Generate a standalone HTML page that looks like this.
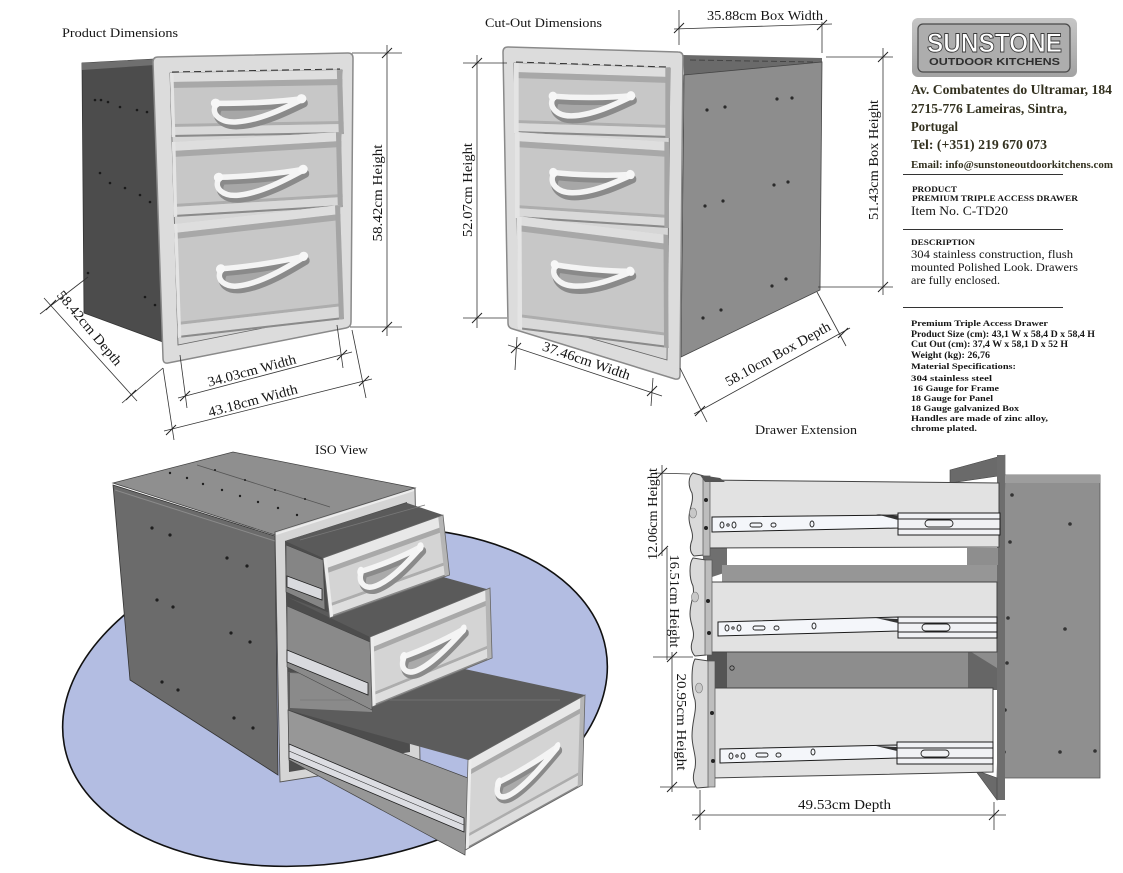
<!DOCTYPE html>
<html><head><meta charset="utf-8"><style>
html,body{margin:0;padding:0;background:#fff;}
svg{display:block;}
text{font-family:"Liberation Serif",serif;fill:#151515;}
</style></head><body>
<svg width="1123" height="873" viewBox="0 0 1123 873" xmlns="http://www.w3.org/2000/svg" xmlns:xlink="http://www.w3.org/1999/xlink">
<defs>
 <g id="hdl">
  <path d="M0,2 C-3,10 2,20 12,19 C25,18 40,6 50,-2 C35,0 15,1 0,2 Z" fill="#9c9c9c" opacity="0.75" transform="translate(1.5,4)"/>
  <path d="M0,0 C15,1 35,0 50,-3 M50,-2 C40,6 25,18 12,19 C2,20 -3,10 0,2" fill="none" stroke="#8a8a8a" stroke-width="7" vector-effect="non-scaling-stroke" transform="translate(1.5,4)" stroke-linecap="round"/>
  <path d="M0,0 C15,1 35,0 50,-3 M50,-2 C40,6 25,18 12,19 C2,20 -3,10 0,2" fill="none" stroke="#f4f4f4" stroke-width="5.5" vector-effect="non-scaling-stroke" stroke-linecap="round"/>
  <ellipse cx="0" cy="0" rx="2.8" ry="4.6" fill="#f7f7f7"/>
  <ellipse cx="50" cy="-3" rx="2.8" ry="4.6" fill="#f7f7f7"/>
 </g>
 <line id="tk" x1="-5" y1="5" x2="5" y2="-5" stroke="#222" stroke-width="1"/>
</defs>

<!-- ================= PRODUCT DIMENSIONS ================= -->
<text x="62" y="37" font-size="13" textLength="116" lengthAdjust="spacingAndGlyphs">Product Dimensions</text>
<polygon points="82,63 155,59 163,342 84,313" fill="#4c4c4c" stroke="#333" stroke-width="0.8"/>
<polygon points="82,63 155,59 155,65 82,70" fill="#6f6f6f"/>
<g fill="#1a1a1a">
<circle cx="95" cy="100" r="1.3"/><circle cx="101" cy="100" r="1.3"/><circle cx="108" cy="102" r="1.3"/><circle cx="120" cy="107" r="1.3"/><circle cx="137" cy="110" r="1.3"/><circle cx="147" cy="112" r="1.3"/>
<circle cx="100" cy="173" r="1.3"/><circle cx="110" cy="183" r="1.3"/><circle cx="125" cy="188" r="1.3"/><circle cx="140" cy="195" r="1.3"/><circle cx="150" cy="202" r="1.3"/>
<circle cx="88" cy="273" r="1.3"/><circle cx="145" cy="297" r="1.3"/><circle cx="155" cy="305" r="1.3"/>
</g>
<path d="M158,57 L348,53 Q353,53 353,58 L351,322 Q351,327 346,328 L168,363 Q163,364 163,358 L153,62 Q153,57 158,57 Z" fill="#dcdcdc" stroke="#8a8a8a" stroke-width="1.5"/>
<polygon points="170,73 342,70 338,313 178,345" fill="#d6d6d6" stroke="#666" stroke-width="0.8"/>
<g transform="matrix(1.72,-0.03,0.03,1,170,73)">
<rect width="100" height="64" fill="#c7c7c7"/><rect width="100" height="9" fill="#dedede"/><rect y="9" width="100" height="6" fill="#a8a8a8"/>
<rect y="51" width="100" height="3" fill="#adadad"/><rect y="54" width="100" height="8" fill="#d9d9d9"/><rect y="62" width="100" height="2" fill="#8a8a8a"/>
<rect width="2" height="64" fill="#e4e4e4"/><rect x="97" width="3" height="64" fill="#a5a5a5"/>
<use href="#hdl" xlink:href="#hdl" transform="translate(26,31)"/>
</g>
<g transform="matrix(1.69,-0.10,0.025,1,172,142)">
<rect width="100" height="75" fill="#c7c7c7"/><rect width="100" height="9" fill="#dedede"/><rect y="9" width="100" height="6" fill="#a8a8a8"/>
<rect y="62" width="100" height="3" fill="#adadad"/><rect y="65" width="100" height="8" fill="#d9d9d9"/><rect y="73" width="100" height="2" fill="#8a8a8a"/>
<rect width="2" height="75" fill="#e4e4e4"/><rect x="97" width="3" height="75" fill="#a5a5a5"/>
<use href="#hdl" xlink:href="#hdl" transform="translate(27,38)"/>
</g>
<g transform="matrix(1.66,-0.19,0.035,1,174,224)">
<rect width="100" height="114" fill="#c7c7c7"/><rect width="100" height="9" fill="#dedede"/><rect y="9" width="100" height="6" fill="#a8a8a8"/>
<rect y="98" width="100" height="3" fill="#adadad"/><rect y="101" width="100" height="11" fill="#d9d9d9"/><rect y="112" width="100" height="2" fill="#8a8a8a"/>
<rect width="2" height="114" fill="#e4e4e4"/><rect x="97" width="3" height="114" fill="#a5a5a5"/>
<use href="#hdl" xlink:href="#hdl" transform="translate(27,50)"/>
</g>
<line x1="172" y1="72" x2="340" y2="69" stroke="#333" stroke-width="1" stroke-dasharray="7,4"/>

<g stroke="#333" stroke-width="0.8" fill="none">
<line x1="387" y1="45" x2="387" y2="336"/><line x1="352" y1="53" x2="402" y2="53"/><line x1="350" y1="327" x2="402" y2="327"/>
<line x1="44" y1="298" x2="137" y2="401"/><line x1="88" y1="277" x2="40" y2="314"/><line x1="163" y1="368" x2="122" y2="403"/>
<line x1="178" y1="398" x2="352" y2="352"/><line x1="180" y1="355" x2="187" y2="408"/><line x1="337" y1="325" x2="343" y2="368"/>
<line x1="164" y1="431" x2="372" y2="379"/><line x1="163" y1="368" x2="174" y2="440"/><line x1="352" y1="330" x2="366" y2="398"/>
</g>
<use href="#tk" xlink:href="#tk" transform="translate(387,53)"/><use href="#tk" xlink:href="#tk" transform="translate(387,327)"/>
<use href="#tk" xlink:href="#tk" transform="translate(51,305)"/><use href="#tk" xlink:href="#tk" transform="translate(131,395)"/>
<use href="#tk" xlink:href="#tk" transform="translate(185,396)"/><use href="#tk" xlink:href="#tk" transform="translate(342,355)"/>
<use href="#tk" xlink:href="#tk" transform="translate(171,430)"/><use href="#tk" xlink:href="#tk" transform="translate(364,381)"/>
<text transform="translate(382,193) rotate(-90)" text-anchor="middle" font-size="14" textLength="97" lengthAdjust="spacingAndGlyphs">58.42cm  Height</text>
<text transform="translate(86,331) rotate(50)" text-anchor="middle" font-size="14" textLength="93" lengthAdjust="spacingAndGlyphs">58.42cm  Depth</text>
<text transform="translate(253,375) rotate(-15)" text-anchor="middle" font-size="14" textLength="91" lengthAdjust="spacingAndGlyphs">34.03cm Width</text>
<text transform="translate(254,405) rotate(-15)" text-anchor="middle" font-size="14" textLength="92" lengthAdjust="spacingAndGlyphs">43.18cm  Width</text>

<!-- ================= CUT-OUT DIMENSIONS ================= -->
<text x="485" y="27" font-size="13" textLength="117" lengthAdjust="spacingAndGlyphs">Cut-Out Dimensions</text>
<polygon points="683,55 822,58 822,62 684,75" fill="#6a6a6a"/>
<polygon points="684,75 822,62 820,290 681,357" fill="#8d8d8d" stroke="#444" stroke-width="0.8"/>
<line x1="690" y1="60" x2="815" y2="62" stroke="#444" stroke-dasharray="6,3"/>
<g fill="#2a2a2a">
<circle cx="707" cy="110" r="1.6"/><circle cx="725" cy="107" r="1.6"/><circle cx="777" cy="99" r="1.6"/><circle cx="792" cy="98" r="1.6"/>
<circle cx="705" cy="206" r="1.6"/><circle cx="723" cy="201" r="1.6"/><circle cx="774" cy="185" r="1.6"/><circle cx="788" cy="182" r="1.6"/>
<circle cx="703" cy="318" r="1.6"/><circle cx="721" cy="310" r="1.6"/><circle cx="772" cy="286" r="1.6"/><circle cx="786" cy="279" r="1.6"/>
</g>
<path d="M508,47 L678,52 Q683,52 683,57 L680,375 Q680,380 675,379 L513,329 Q508,328 508,323 L503,52 Q503,47 508,47 Z" fill="#dcdcdc" stroke="#8a8a8a" stroke-width="1.5"/>
<polygon points="514,63 670,68 667,360 519,318" fill="#d6d6d6" stroke="#666" stroke-width="0.8"/>
<g transform="matrix(1.56,0.05,0,1,514,63)">
<rect width="100" height="70" fill="#c7c7c7"/><rect width="100" height="9" fill="#dedede"/><rect y="9" width="100" height="6" fill="#a8a8a8"/>
<rect y="57" width="100" height="3" fill="#adadad"/><rect y="60" width="100" height="8" fill="#d9d9d9"/><rect y="68" width="100" height="2" fill="#8a8a8a"/>
<rect width="3" height="70" fill="#e4e4e4"/><rect x="97" width="3" height="70" fill="#a5a5a5"/>
<use href="#hdl" xlink:href="#hdl" transform="translate(25,32)"/>
</g>
<g transform="matrix(1.54,0.10,0,1,515,132)">
<rect width="100" height="86" fill="#c7c7c7"/><rect width="100" height="9" fill="#dedede"/><rect y="9" width="100" height="6" fill="#a8a8a8"/>
<rect y="73" width="100" height="3" fill="#adadad"/><rect y="76" width="100" height="8" fill="#d9d9d9"/><rect y="84" width="100" height="2" fill="#8a8a8a"/>
<rect width="3" height="86" fill="#e4e4e4"/><rect x="97" width="3" height="86" fill="#a5a5a5"/>
<use href="#hdl" xlink:href="#hdl" transform="translate(25,38)"/>
</g>
<g transform="matrix(1.51,0.19,0.005,1,517,216)">
<rect width="100" height="113" fill="#c7c7c7"/><rect width="100" height="9" fill="#dedede"/><rect y="9" width="100" height="6" fill="#a8a8a8"/>
<rect y="98" width="100" height="3" fill="#adadad"/><rect y="101" width="100" height="10" fill="#d9d9d9"/><rect y="111" width="100" height="2" fill="#8a8a8a"/>
<rect width="3" height="113" fill="#e4e4e4"/><rect x="97" width="3" height="113" fill="#a5a5a5"/>
<use href="#hdl" xlink:href="#hdl" transform="translate(25,44)"/>
</g>
<line x1="516" y1="62" x2="668" y2="67" stroke="#333" stroke-width="1" stroke-dasharray="7,4"/>

<g stroke="#333" stroke-width="0.8" fill="none">
<line x1="674" y1="29" x2="832" y2="24"/><line x1="679" y1="10" x2="679" y2="45"/><line x1="822" y1="22" x2="822" y2="53"/>
<line x1="883" y1="48" x2="883" y2="295"/><line x1="826" y1="57" x2="893" y2="57"/><line x1="818" y1="287" x2="893" y2="287"/>
<line x1="477" y1="55" x2="477" y2="328"/><line x1="463" y1="63" x2="507" y2="63"/><line x1="463" y1="318" x2="507" y2="318"/>
<line x1="508" y1="345" x2="662" y2="396"/><line x1="517" y1="337" x2="515" y2="370"/><line x1="653" y1="378" x2="651" y2="406"/>
<line x1="694" y1="414" x2="850" y2="328"/><line x1="680" y1="368" x2="707" y2="422"/><line x1="817" y1="292" x2="846" y2="346"/>
</g>
<use href="#tk" xlink:href="#tk" transform="translate(679,28)"/><use href="#tk" xlink:href="#tk" transform="translate(822,25)"/>
<use href="#tk" xlink:href="#tk" transform="translate(883,57)"/><use href="#tk" xlink:href="#tk" transform="translate(883,287)"/>
<use href="#tk" xlink:href="#tk" transform="translate(477,63)"/><use href="#tk" xlink:href="#tk" transform="translate(477,318)"/>
<use href="#tk" xlink:href="#tk" transform="translate(516,348)"/><use href="#tk" xlink:href="#tk" transform="translate(652,391)"/>
<use href="#tk" xlink:href="#tk" transform="translate(700,411)"/><use href="#tk" xlink:href="#tk" transform="translate(843,333)"/>
<text x="707" y="20" font-size="14" textLength="116" lengthAdjust="spacingAndGlyphs">35.88cm Box Width</text>
<text transform="translate(878,160) rotate(-90)" text-anchor="middle" font-size="14" textLength="120" lengthAdjust="spacingAndGlyphs">51.43cm  Box Height</text>
<text transform="translate(472,190) rotate(-90)" text-anchor="middle" font-size="14" textLength="94" lengthAdjust="spacingAndGlyphs">52.07cm Height</text>
<text transform="translate(585,365) rotate(19)" text-anchor="middle" font-size="14" textLength="92" lengthAdjust="spacingAndGlyphs">37.46cm Width</text>
<text transform="translate(780,358) rotate(-29)" text-anchor="middle" font-size="14" textLength="118" lengthAdjust="spacingAndGlyphs">58.10cm Box Depth</text>
<text x="755" y="434" font-size="13" textLength="102" lengthAdjust="spacingAndGlyphs">Drawer Extension</text>

<!-- ================= INFO BLOCK ================= -->
<defs><linearGradient id="lg" x1="0" y1="0" x2="0" y2="1"><stop offset="0" stop-color="#c6c6c6"/><stop offset="1" stop-color="#a2a2a2"/></linearGradient></defs>
<rect x="912" y="18" width="165" height="59" rx="6" fill="url(#lg)"/>
<rect x="918" y="24" width="152" height="48" rx="5" fill="#adadad" stroke="#4a4a4a" stroke-width="1.2"/>
<text x="927" y="52" font-size="27" textLength="135" lengthAdjust="spacingAndGlyphs" style="fill:#fff;stroke:#3a3a3a;stroke-width:0.9;font-family:'Liberation Sans',sans-serif;font-weight:bold">SUNSTONE</text>
<text x="929" y="65" font-size="10" textLength="131" lengthAdjust="spacingAndGlyphs" style="fill:#2e2e2e;font-family:'Liberation Sans',sans-serif;font-weight:bold">OUTDOOR KITCHENS</text>
<g font-weight="bold">
<text x="911" y="94" font-size="14" textLength="201" lengthAdjust="spacingAndGlyphs" style="fill:#33311f">Av. Combatentes do Ultramar, 184</text>
<text x="911" y="113" font-size="14" textLength="156" lengthAdjust="spacingAndGlyphs" style="fill:#33311f">2715-776 Lameiras, Sintra,</text>
<text x="911" y="131" font-size="14" textLength="47" lengthAdjust="spacingAndGlyphs" style="fill:#33311f">Portugal</text>
<text x="911" y="149" font-size="14" textLength="136" lengthAdjust="spacingAndGlyphs" style="fill:#33311f">Tel: (+351) 219 670 073</text>
<text x="911" y="168" font-size="10.5" textLength="202" lengthAdjust="spacingAndGlyphs" style="fill:#33311f">Email: info@sunstoneoutdoorkitchens.com</text>
</g>
<g stroke="#333" stroke-width="1">
<line x1="903" y1="174.5" x2="1063" y2="174.5"/><line x1="903" y1="229.5" x2="1063" y2="229.5"/><line x1="903" y1="307.5" x2="1063" y2="307.5"/>
</g>
<text x="912" y="192" font-size="8.5" font-weight="bold" textLength="45" lengthAdjust="spacingAndGlyphs">PRODUCT</text>
<text x="912" y="201" font-size="8.5" font-weight="bold" textLength="166" lengthAdjust="spacingAndGlyphs">PREMIUM TRIPLE ACCESS DRAWER</text>
<text x="911" y="215" font-size="12.5" textLength="97" lengthAdjust="spacingAndGlyphs">Item No. C-TD20</text>
<text x="911" y="245" font-size="8.5" font-weight="bold" textLength="64" lengthAdjust="spacingAndGlyphs">DESCRIPTION</text>
<text x="911" y="258" font-size="12" textLength="162" lengthAdjust="spacingAndGlyphs">304 stainless construction, flush</text>
<text x="911" y="271" font-size="12" textLength="167" lengthAdjust="spacingAndGlyphs">mounted Polished Look. Drawers</text>
<text x="911" y="284" font-size="12" textLength="89" lengthAdjust="spacingAndGlyphs">are fully enclosed.</text>
<g font-weight="bold">
<text x="911" y="326" font-size="8.5" textLength="137" lengthAdjust="spacingAndGlyphs">Premium Triple Access Drawer</text>
<text x="911" y="337" font-size="9.5" textLength="184" lengthAdjust="spacingAndGlyphs">Product Size (cm): 43,1 W x 58,4 D x 58,4 H</text>
<text x="911" y="347" font-size="9.5" textLength="157" lengthAdjust="spacingAndGlyphs">Cut Out (cm): 37,4 W x 58,1 D x 52 H</text>
<text x="911" y="358" font-size="9.5" textLength="79" lengthAdjust="spacingAndGlyphs">Weight (kg): 26,76</text>
<text x="911" y="369" font-size="8.5" textLength="105" lengthAdjust="spacingAndGlyphs">Material Specifications:</text>
<text x="911" y="381" font-size="8.5" textLength="81" lengthAdjust="spacingAndGlyphs">304 stainless steel</text>
<text x="913" y="391" font-size="8.5" textLength="86" lengthAdjust="spacingAndGlyphs">16 Gauge for Frame</text>
<text x="911" y="401" font-size="8.5" textLength="82" lengthAdjust="spacingAndGlyphs">18 Gauge for Panel</text>
<text x="911" y="411" font-size="8.5" textLength="108" lengthAdjust="spacingAndGlyphs">18 Gauge galvanized Box</text>
<text x="911" y="421" font-size="8.5" textLength="137" lengthAdjust="spacingAndGlyphs">Handles are made of zinc alloy,</text>
<text x="911" y="431" font-size="8.5" textLength="66" lengthAdjust="spacingAndGlyphs">chrome plated.</text>
</g>

<!-- ================= ISO VIEW ================= -->
<text x="315" y="454" font-size="13" textLength="53" lengthAdjust="spacingAndGlyphs">ISO View</text>
<ellipse cx="335" cy="697" rx="275" ry="165" transform="rotate(-10 335 697)" fill="#b3bde2" stroke="#111" stroke-width="1.6"/>
<polygon points="113,483 233,452 415,488 275,535" fill="#8f8f8f" stroke="#444" stroke-width="0.8"/>
<line x1="197" y1="465" x2="330" y2="507" stroke="#555" stroke-width="0.8"/>
<polygon points="113,485 275,536 278,775 130,680" fill="#6b6b6b" stroke="#333" stroke-width="0.8"/>
<line x1="115" y1="490" x2="275" y2="541" stroke="#8a8a8a" stroke-width="1"/>
<g fill="#1e1e1e">
<circle cx="170" cy="473" r="1.2"/><circle cx="187" cy="478" r="1.2"/><circle cx="203" cy="484" r="1.2"/><circle cx="222" cy="490" r="1.2"/><circle cx="240" cy="496" r="1.2"/><circle cx="258" cy="502" r="1.2"/><circle cx="278" cy="508" r="1.2"/><circle cx="297" cy="515" r="1.2"/>
<circle cx="215" cy="470" r="1"/><circle cx="245" cy="480" r="1"/><circle cx="275" cy="490" r="1"/><circle cx="305" cy="499" r="1"/>
<circle cx="152" cy="528" r="1.6"/><circle cx="170" cy="535" r="1.6"/><circle cx="227" cy="558" r="1.6"/><circle cx="247" cy="566" r="1.6"/>
<circle cx="157" cy="600" r="1.6"/><circle cx="173" cy="607" r="1.6"/><circle cx="231" cy="633" r="1.6"/><circle cx="250" cy="642" r="1.6"/>
<circle cx="162" cy="682" r="1.6"/><circle cx="178" cy="690" r="1.6"/><circle cx="234" cy="718" r="1.6"/><circle cx="253" cy="728" r="1.6"/>
</g>
<!-- frame -->
<polygon points="275,532 415,488 420,760 280,782" fill="#d5d5d5" stroke="#555" stroke-width="0.9"/>
<polygon points="285,541 407,502 410,752 289,772" fill="#4d4d4d"/>
<!-- drawer 3 -->
<polygon points="288,672 460,668 585,695 468,760 288,710" fill="#5c5c5c"/>
<polygon points="290,673 370,676 372,712 290,708" fill="#8a8a8a"/>
<line x1="300" y1="700" x2="560" y2="700" stroke="#777" stroke-width="0.8"/>
<polygon points="288,710 468,778 465,855 289,760" fill="#979797" stroke="#444" stroke-width="0.7"/>
<polygon points="289,744 464,818 464,832 289,758" fill="#dcdde2" stroke="#222" stroke-width="0.8"/>
<line x1="289" y1="751" x2="464" y2="825" stroke="#333" stroke-width="0.6"/>
<g transform="matrix(1.17,-0.65,-0.03,1,468,760)">
<rect width="100" height="90" fill="#d4d4d4"/><rect width="100" height="11" fill="#e8e8e8"/><rect y="11" width="100" height="5" fill="#a9a9a9"/>
<rect y="75" width="100" height="3" fill="#adadad"/><rect y="78" width="100" height="10" fill="#dedede"/><rect y="88" width="100" height="2" fill="#8a8a8a"/>
<rect width="3" height="90" fill="#ececec"/><rect x="96" width="4" height="90" fill="#b5b5b5"/>
<rect width="100" height="90" fill="none" stroke="#666" stroke-width="0.8" vector-effect="non-scaling-stroke"/>
<use href="#hdl" xlink:href="#hdl" transform="translate(27,40)"/>
</g>
<!-- drawer 2 -->
<polygon points="287,597 330,613 443,577 490,590 370,637" fill="#5a5a5a"/>
<polygon points="287,606 370,642 372,710 287,667" fill="#8a8a8a" stroke="#444" stroke-width="0.6"/>
<polygon points="287,650 368,683 368,695 287,662" fill="#d9dade" stroke="#222" stroke-width="0.8"/>
<g transform="matrix(1.2,-0.49,0.03,1,370,637)">
<rect width="100" height="70" fill="#d4d4d4"/><rect width="100" height="11" fill="#e8e8e8"/><rect y="11" width="100" height="5" fill="#a9a9a9"/>
<rect y="56" width="100" height="3" fill="#adadad"/><rect y="59" width="100" height="9" fill="#dedede"/><rect y="68" width="100" height="2" fill="#8a8a8a"/>
<rect width="3" height="70" fill="#ececec"/><rect x="96" width="4" height="70" fill="#b5b5b5"/>
<rect width="100" height="70" fill="none" stroke="#666" stroke-width="0.8" vector-effect="non-scaling-stroke"/>
<use href="#hdl" xlink:href="#hdl" transform="translate(27,33)"/>
</g>
<!-- drawer 1 -->
<polygon points="285,541 407,503 443,515 323,558" fill="#5a5a5a"/>
<line x1="300" y1="540" x2="425" y2="505" stroke="#777" stroke-width="0.8"/>
<polygon points="286,545 323,560 325,610 286,592" fill="#858585" stroke="#444" stroke-width="0.6"/>
<polygon points="287,576 322,589 322,600 287,587" fill="#d9dade" stroke="#222" stroke-width="0.8"/>
<g transform="matrix(1.2,-0.43,0.11,1,323,558)">
<rect width="100" height="60" fill="#d4d4d4"/><rect width="100" height="11" fill="#e8e8e8"/><rect y="11" width="100" height="5" fill="#a9a9a9"/>
<rect y="46" width="100" height="3" fill="#adadad"/><rect y="49" width="100" height="9" fill="#dedede"/><rect y="58" width="100" height="2" fill="#8a8a8a"/>
<rect width="3" height="60" fill="#ececec"/><rect x="96" width="4" height="60" fill="#b5b5b5"/>
<rect width="100" height="60" fill="none" stroke="#666" stroke-width="0.8" vector-effect="non-scaling-stroke"/>
<use href="#hdl" xlink:href="#hdl" transform="translate(29,26)"/>
</g>
<line x1="276" y1="534" x2="414" y2="490" stroke="#ececec" stroke-width="2"/>

<!-- ================= DRAWER EXTENSION ================= -->
<polygon points="1005,475 1100,475 1100,778 997,778" fill="#8f8f8f" stroke="#555" stroke-width="0.8"/>
<rect x="1005" y="475" width="95" height="8" fill="#9d9d9d"/>
<g fill="#333">
<circle cx="1012" cy="495" r="1.8"/><circle cx="1070" cy="524" r="1.8"/><circle cx="1010" cy="542" r="1.8"/><circle cx="1008" cy="618" r="1.8"/><circle cx="1065" cy="629" r="1.8"/><circle cx="1007" cy="663" r="1.8"/><circle cx="1005" cy="710" r="1.8"/><circle cx="1004" cy="752" r="1.8"/><circle cx="1060" cy="752" r="1.8"/><circle cx="1095" cy="751" r="1.8"/>
</g>
<polygon points="950,470 1005,455 1005,475 950,483" fill="#6a6a6a" stroke="#444" stroke-width="0.6"/>
<rect x="997" y="455" width="8" height="345" fill="#6d6d6d"/>
<polygon points="975,770 997,778 997,800" fill="#6a6a6a" stroke="#444" stroke-width="0.6"/>
<polygon points="703,548 727,548 727,572 703,580" fill="#6f6f6f"/>
<rect x="722" y="565" width="275" height="17" fill="#969696"/>
<rect x="967" y="548" width="31" height="17" fill="#8e8e8e"/>
<rect x="707" y="650" width="290" height="40" fill="#8d8d8d"/>
<rect x="707" y="650" width="20" height="40" fill="#555"/>
<polygon points="968,650 997,668 997,690 968,690" fill="#666"/>
<circle cx="732" cy="668" r="2.2" fill="none" stroke="#222" stroke-width="0.8"/>
<polygon points="705,480 999,483 999,547 705,548" fill="#e2e2e2" stroke="#444" stroke-width="1"/>
<polygon points="705,582 997,582 997,652 705,652" fill="#e2e2e2" stroke="#444" stroke-width="1"/>
<polygon points="708,688 993,688 993,772 712,778" fill="#e2e2e2" stroke="#444" stroke-width="1"/>
<g stroke="#1c1c1c" stroke-width="1">
<polygon points="712,517 898,515 898,528 712,532" fill="#f4f6fa"/>
<rect x="898" y="513" width="102" height="22" fill="#f0f1f4"/>
<line x1="898" y1="519" x2="1000" y2="519"/><line x1="898" y1="529" x2="1000" y2="529"/>
<polygon points="718,622 898,617 898,631 718,636" fill="#f4f6fa"/>
<rect x="898" y="617" width="99" height="21" fill="#f0f1f4"/>
<line x1="898" y1="623" x2="997" y2="623"/><line x1="898" y1="632" x2="997" y2="632"/>
<polygon points="720,749 897,745 897,758 720,763" fill="#f4f6fa"/>
<rect x="897" y="742" width="96" height="22" fill="#f0f1f4"/>
<line x1="897" y1="748" x2="993" y2="748"/><line x1="897" y1="758" x2="993" y2="758"/>
</g>
<g fill="#333">
<polygon points="876,514 898,516 898,520"/><polygon points="876,618 898,619 898,623"/><polygon points="876,746 897,747 897,751"/>
</g>
<g fill="none" stroke="#222" stroke-width="0.9">
<ellipse cx="722" cy="525" rx="2" ry="3"/><ellipse cx="728" cy="525" rx="1.2" ry="1.2"/><ellipse cx="734" cy="525" rx="2" ry="3"/>
<rect x="750" y="523" width="12" height="4" rx="2"/><rect x="771" y="523" width="5" height="4" rx="2"/><ellipse cx="812" cy="524" rx="2" ry="3"/>
<rect x="925" y="520" width="28" height="7" rx="3.5"/>
<ellipse cx="727" cy="628" rx="2" ry="3"/><ellipse cx="733" cy="628" rx="1.2" ry="1.2"/><ellipse cx="739" cy="628" rx="2" ry="3"/>
<rect x="753" y="626" width="12" height="4" rx="2"/><rect x="774" y="626" width="5" height="4" rx="2"/><ellipse cx="814" cy="626" rx="2" ry="3"/>
<rect x="922" y="624" width="28" height="7" rx="3.5"/>
<ellipse cx="731" cy="756" rx="2" ry="3"/><ellipse cx="737" cy="756" rx="1.2" ry="1.2"/><ellipse cx="743" cy="756" rx="2" ry="3"/>
<rect x="756" y="753" width="12" height="4" rx="2"/><rect x="776" y="753" width="5" height="4" rx="2"/><ellipse cx="813" cy="752" rx="2" ry="3"/>
<rect x="921" y="750" width="28" height="7" rx="3.5"/>
</g>
<g fill="#dadada" stroke="#444" stroke-width="1">
<path d="M693,473 L704,476 L704,555 L694,556 C689,552 690,545 692,540 C694,532 689,527 689,518 C689,508 694,502 692,493 C688,486 688,477 693,473 Z"/>
<path d="M693,558 L706,560 L706,655 L695,656 C690,651 691,644 693,639 C695,630 690,624 690,614 C690,602 695,596 693,586 C689,578 689,563 693,558 Z"/>
<path d="M695,659 L709,661 L709,787 L697,788 C692,782 693,775 695,768 C697,756 692,748 692,736 C692,720 697,712 695,700 C691,690 691,666 695,659 Z"/>
</g>
<g fill="#bdbdbd" stroke="#555" stroke-width="0.7">
<rect x="703" y="476" width="7" height="80"/><rect x="705" y="560" width="7" height="95"/><rect x="708" y="661" width="7" height="126"/>
</g>
<g fill="#222">
<circle cx="706" cy="500" r="2"/><circle cx="706" cy="528" r="2"/><circle cx="708" cy="601" r="2"/><circle cx="709" cy="633" r="2"/><circle cx="712" cy="713" r="2"/><circle cx="713" cy="761" r="2"/>
</g>
<g fill="#c8c8c8" stroke="#777" stroke-width="0.6">
<ellipse cx="693" cy="513" rx="3.5" ry="5"/><ellipse cx="695" cy="597" rx="3.5" ry="5"/><ellipse cx="699" cy="688" rx="3.5" ry="5"/>
</g>
<polygon points="700,475 720,478 725,482 705,482" fill="#555"/>
<g stroke="#333" stroke-width="0.8">
<line x1="662" y1="465" x2="662" y2="556"/><line x1="655" y1="473" x2="690" y2="474"/>
<line x1="667" y1="548" x2="667" y2="660"/>
<line x1="672" y1="652" x2="672" y2="792"/><line x1="653" y1="657" x2="693" y2="657"/><line x1="660" y1="787" x2="696" y2="787"/>
<line x1="692" y1="815" x2="1006" y2="815"/><line x1="700" y1="790" x2="700" y2="830"/><line x1="994" y1="802" x2="994" y2="830"/>
</g>
<use href="#tk" xlink:href="#tk" transform="translate(662,473)"/><use href="#tk" xlink:href="#tk" transform="translate(663,551)"/>
<use href="#tk" xlink:href="#tk" transform="translate(672,657)"/><use href="#tk" xlink:href="#tk" transform="translate(672,787)"/>
<use href="#tk" xlink:href="#tk" transform="translate(700,815)"/><use href="#tk" xlink:href="#tk" transform="translate(994,815)"/>
<text transform="translate(657,514) rotate(-90)" text-anchor="middle" font-size="13.5" textLength="92" lengthAdjust="spacingAndGlyphs">12.06cm Height</text>
<text transform="translate(670,601) rotate(90)" text-anchor="middle" font-size="13.5" textLength="93" lengthAdjust="spacingAndGlyphs">16.51cm Height</text>
<text transform="translate(677,722) rotate(90)" text-anchor="middle" font-size="13.5" textLength="97" lengthAdjust="spacingAndGlyphs">20.95cm  Height</text>
<text x="798" y="809" font-size="14" textLength="93" lengthAdjust="spacingAndGlyphs">49.53cm  Depth</text>
</svg>
</body></html>
